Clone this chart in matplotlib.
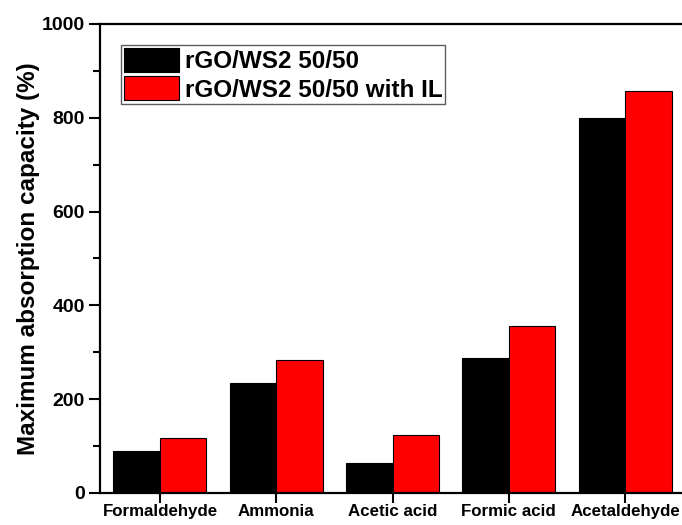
import matplotlib.pyplot as plt
import numpy as np
from matplotlib.ticker import MultipleLocator

plt.rcParams["font.family"] = ["Liberation Sans", "DejaVu Sans"]
plt.rcParams["font.weight"] = "bold"

categories = ["Formaldehyde", "Ammonia", "Acetic acid", "Formic acid", "Acetaldehyde"]
series_names = ["rGO/WS2 50/50", "rGO/WS2 50/50 with IL"]
plain = [89, 234, 64, 287, 800]
with_il = [117, 283, 123, 357, 857]

x = np.arange(len(categories))
width = 0.4

fig = plt.figure(figsize=(6.82, 5.25), dpi=100)
ax = fig.add_axes([0.1466, 0.061, 0.8534, 0.8933])

ax.bar(x - width / 2, plain, width, color="black", edgecolor="black",
       linewidth=0.8, label=series_names[0])
ax.bar(x + width / 2, with_il, width, color="#ff0000", edgecolor="black",
       linewidth=0.8, label=series_names[1])

ax.set_xlim(-0.516, 4.49)
ax.set_ylim(0, 1000)
ax.set_xticks(x)
ax.set_xticklabels(categories, fontsize=12.2, fontweight="bold")
ax.yaxis.set_major_locator(MultipleLocator(200))
ax.yaxis.set_minor_locator(MultipleLocator(100))
for lbl in ax.get_yticklabels():
    lbl.set_fontsize(14)
    lbl.set_fontweight("bold")

ax.tick_params(axis="y", which="major", direction="out", length=8, width=1.5, pad=3)
ax.tick_params(axis="x", which="major", direction="out", length=7, width=1.5, pad=1)
ax.tick_params(axis="y", which="minor", direction="out", length=5, width=1.5)

for side in ["left", "bottom", "top"]:
    ax.spines[side].set_linewidth(1.6)
ax.spines["right"].set_visible(False)

ax.set_ylabel("Maximum absorption capacity (%)", fontsize=17.5,
              fontweight="bold", labelpad=1)

leg = ax.legend(loc="upper left", bbox_to_anchor=(0.036, 0.955),
                fontsize=17.5, frameon=True, fancybox=False,
                handlelength=2.26, handleheight=1.15, handletextpad=0.25,
                labelspacing=0.12, borderpad=0.12, borderaxespad=0)
leg.get_frame().set_edgecolor("#333333")
leg.get_frame().set_linewidth(1.0)
for txt in leg.get_texts():
    txt.set_fontweight("bold")

fig.savefig("out.png", dpi=100)
